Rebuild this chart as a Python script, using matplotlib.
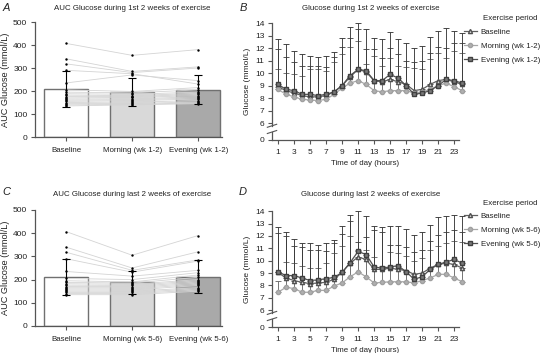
import numpy as np
import matplotlib
matplotlib.use("Agg")
import matplotlib.pyplot as plt

plt.rcParams['font.family'] = ['Liberation Sans', 'DejaVu Sans']
plt.rcParams['font.size'] = 5.7

# ---------------- data ----------------
groups_12 = ["Baseline", "Morning (wk 1-2)", "Evening (wk 1-2)"]
groups_56 = ["Baseline", "Morning (wk 5-6)", "Evening (wk 5-6)"]

# AUC panels: mean, SD and individual participants
auc_mean_a = [210, 196, 206]
auc_sd_a = [78, 60, 64]
auc_mean_c = [210, 188, 213]
auc_sd_c = [78, 50, 70]

auc_baseline = [407, 340, 318, 290, 235, 205, 195, 188, 182, 176, 170, 165, 160, 155, 150, 145, 140, 135]
auc_morning_a = [355, 285, 280, 275, 270, 198, 192, 186, 180, 176, 172, 166, 162, 158, 152, 146, 142, 140]
auc_evening_a = [380, 305, 300, 230, 245, 215, 205, 195, 190, 185, 180, 175, 170, 165, 158, 152, 148, 145]
auc_morning_c = [305, 250, 240, 232, 215, 200, 190, 185, 180, 175, 170, 165, 160, 155, 150, 145, 140, 135]
auc_evening_c = [390, 320, 285, 280, 240, 230, 220, 210, 200, 195, 190, 185, 180, 175, 165, 160, 155, 150]

hours = list(range(1, 25))
hour_ticks = list(range(1, 24, 2))

# panel B (weeks 1-2)
b_baseline = [8.9, 8.6, 8.4, 8.2, 8.1, 8.1, 8.2, 8.5, 9.0, 9.7, 10.3, 10.1,
              9.4, 9.3, 9.5, 9.3, 9.1, 8.6, 8.7, 9.1, 9.4, 9.5, 9.3, 9.1]
b_morning = [8.7, 8.3, 8.1, 7.9, 7.85, 7.8, 7.9, 8.3, 8.8, 9.2, 9.4, 9.1,
             8.6, 8.5, 8.6, 8.6, 8.6, 8.4, 8.5, 8.7, 9.0, 9.2, 8.9, 8.6]
b_evening = [9.1, 8.7, 8.6, 8.3, 8.3, 8.2, 8.3, 8.5, 9.0, 9.8, 10.3, 10.2,
             9.4, 9.4, 9.9, 9.6, 9.0, 8.3, 8.4, 8.6, 9.0, 9.5, 9.4, 9.2]
# upper ends of the SD bars
b_evening_top = [12.75, 12.3, 11.8, 11.5, 11.4, 11.3, 11.4, 11.7, 12.8, 13.7, 14.0, 13.5,
                 12.8, 12.7, 13.3, 12.7, 12.4, 12.0, 12.2, 12.9, 13.4, 13.6, 13.4, 13.2]
b_baseline_top = [11.9, 11.3, 10.9, 10.6, 10.6, 10.6, 10.5, 11.3, 12.1, 12.8, 13.5, 11.9,
                  11.9, 11.2, 12.0, 11.5, 11.0, 10.9, 11.0, 11.6, 12.1, 12.0, 12.4, 12.4]
b_morning_top = [10.3, 10.0, 9.9, 9.8, 10.3, 10.3, 10.2, 10.9, 11.5, 12.1, 12.6, 10.7,
                 11.4, 10.6, 11.2, 10.6, 10.5, 10.4, 10.3, 11.1, 11.6, 11.2, 11.8, 11.6]

# panel D (weeks 5-6)
d_baseline = [9.05, 8.6, 8.4, 8.25, 8.15, 8.2, 8.25, 8.5, 9.05, 9.8, 10.3, 10.1,
              9.3, 9.3, 9.4, 9.3, 9.2, 8.9, 9.0, 9.4, 9.7, 9.8, 9.7, 9.4]
d_morning = [7.45, 7.85, 7.75, 7.45, 7.45, 7.6, 7.6, 7.95, 8.2, 8.7, 9.1, 8.7,
             8.2, 8.25, 8.3, 8.3, 8.3, 8.2, 8.4, 8.6, 8.9, 8.9, 8.6, 8.3]
d_evening = [9.1, 8.8, 8.8, 8.6, 8.4, 8.45, 8.55, 8.65, 9.05, 9.85, 10.75, 10.5,
             9.5, 9.4, 9.5, 9.6, 9.1, 8.5, 8.7, 9.3, 9.7, 9.9, 10.1, 9.8]
d_evening_top = [12.75, 12.3, 11.75, 11.45, 11.4, 11.3, 11.4, 11.7, 12.8, 13.7, 14.0, 13.6,
                 12.8, 12.7, 12.8, 12.8, 12.6, 12.1, 12.3, 12.9, 13.5, 13.6, 13.7, 13.6]
d_baseline_top = [12.25, 12.0, 11.2, 11.1, 10.9, 10.9, 10.8, 11.4, 12.2, 13.2, 11.5, 11.9,
                  12.5, 12.3, 11.3, 11.3, 11.1, 10.7, 10.9, 11.6, 12.1, 12.3, 12.5, 12.3]
d_morning_top = [8.4, 9.9, 9.8, 9.6, 9.4, 9.4, 9.8, 10.6, 11.2, 12.0, 10.9, 10.9,
                 10.3, 9.6, 10.7, 10.6, 10.4, 10.0, 10.2, 10.9, 11.2, 11.4, 11.6, 11.5]

# ---------------- style ----------------
W, H = 546, 353
AX_COL = '#555555'
TXT = '#222222'
FS = 5.7
bar_colors = ['white', '#d9d9d9', '#a9a9a9']
ZERO_POS = 4.64   # where "0" sits below the axis break


def fx(px):
    return px / W


def fy(px):
    return 1 - px / H


def style_axes(ax):
    for s in ['top', 'right']:
        ax.spines[s].set_visible(False)
    for s in ['left', 'bottom']:
        ax.spines[s].set_color(AX_COL)
        ax.spines[s].set_linewidth(0.9)
    ax.tick_params(colors=AX_COL, labelcolor=TXT, length=3, width=0.8, labelsize=FS, pad=2.5)
    ax.tick_params(axis='y', labelsize=6.0)


def auc_panel(ax, labels, means, sds, pts):
    x = np.arange(3)
    pts = np.array(pts)
    ax.bar(x, means, width=0.66, color=bar_colors, edgecolor='#707070', linewidth=1.0, zorder=1)
    for j in range(pts.shape[1]):
        ax.plot(x, pts[:, j], color='#d4d4d4', lw=0.6, zorder=2)
    for i in range(3):
        ax.scatter(np.full(pts.shape[1], x[i]), pts[i], s=3, color='black', zorder=3, linewidths=0)
    ax.errorbar(x, means, yerr=sds, fmt='none', ecolor='black', elinewidth=0.8,
                capsize=3, capthick=0.8, zorder=4)
    ax.set_xlim(-0.47, 2.36)
    ax.set_ylim(0, 500)
    ax.set_yticks(range(0, 501, 100))
    ax.set_xticks(x)
    ax.set_xticklabels(labels)
    style_axes(ax)
    ax.tick_params(axis='x', length=3, pad=4)
    ax.set_ylabel('AUC Glucose (mmol/L)', color=TXT, fontsize=6.6, labelpad=2)


def glucose_panel(ax, series, tops):
    styles = [
        dict(marker='^', color='#606060', mfc='#e0e0e0', mec='#505050', ms=3.0),
        dict(marker='o', color='#a8a8a8', mfc='#b0b0b0', mec='#a0a0a0', ms=3.0),
        dict(marker='s', color='#505050', mfc='#7a7a7a', mec='#404040', ms=2.8),
    ]
    err_cols = ['#4a4a4a', '#6a6a6a', '#3a3a3a']
    handles = []
    for (vals, top, ec) in zip(series, tops, err_cols):
        vals = np.array(vals)
        up = np.array(top) - vals
        ax.errorbar(hours, vals, yerr=[np.zeros_like(up), up], fmt='none', ecolor=ec,
                    elinewidth=0.65, capsize=2, capthick=0.65, zorder=2, clip_on=False)
    for (vals, st) in zip(series, styles):
        h, = ax.plot(hours, vals, lw=0.9, zorder=3, clip_on=False, **st)
        handles.append(h)
    ax.set_xlim(0.25, 23.6)
    ax.set_ylim(ZERO_POS, 14.02)
    ax.set_yticks([ZERO_POS] + list(range(6, 15)))
    ax.set_yticklabels(['0'] + [str(v) for v in range(6, 15)])
    ax.set_xticks(hour_ticks)
    style_axes(ax)
    ax.tick_params(axis='x', pad=3.5, labelsize=6.0)
    # broken y axis
    ax.spines['left'].set_bounds(5.8, 14.02)
    tr = ax.get_yaxis_transform()
    ax.plot([0, 0], [ZERO_POS, 5.25], transform=tr, color=AX_COL, lw=0.9, clip_on=False)
    for yb in (5.78, 5.28):
        ax.plot([-0.025, 0.025], [yb - 0.12, yb + 0.12], transform=tr, color=AX_COL,
                lw=0.8, clip_on=False)
    ax.set_ylabel('Glucose (mmol/L)', color=TXT, fontsize=6.1, labelpad=3)
    ax.set_xlabel('Time of day (hours)', color=TXT, fontsize=FS, labelpad=3)
    return handles


fig = plt.figure(figsize=(W / 100, H / 100), dpi=100)

ax_a = fig.add_axes([fx(35), fy(137), fx(222 - 35), (137 - 22) / H])
ax_c = fig.add_axes([fx(35), fy(326), fx(222 - 35), (326 - 210) / H])
ax_b = fig.add_axes([fx(272), fy(140), fx(459 - 272), (140 - 23) / H])
ax_d = fig.add_axes([fx(272), fy(327), fx(459 - 272), (327 - 211) / H])

auc_panel(ax_a, groups_12, auc_mean_a, auc_sd_a, [auc_baseline, auc_morning_a, auc_evening_a])
auc_panel(ax_c, groups_56, auc_mean_c, auc_sd_c, [auc_baseline, auc_morning_c, auc_evening_c])

hb = glucose_panel(ax_b, [b_baseline, b_morning, b_evening], [b_baseline_top, b_morning_top, b_evening_top])
hd = glucose_panel(ax_d, [d_baseline, d_morning, d_evening], [d_baseline_top, d_morning_top, d_evening_top])

# titles and panel letters
fig.text(fx(132), fy(8), 'AUC Glucose during 1st 2 weeks of exercise', ha='center', va='center', color=TXT, fontsize=FS)
fig.text(fx(132), fy(195), 'AUC Glucose during last 2 weeks of exercise', ha='center', va='center', color=TXT, fontsize=FS)
fig.text(fx(371), fy(8), 'Glucose during 1st 2 weeks of exercise', ha='center', va='center', color=TXT, fontsize=FS)
fig.text(fx(371), fy(195), 'Glucose during last 2 weeks of exercise', ha='center', va='center', color=TXT, fontsize=FS)
for lab, x, y in [('A', 6, 8), ('B', 243, 8), ('C', 6, 192), ('D', 243, 192)]:
    fig.text(fx(x), fy(y), lab, ha='center', va='center', style='italic', fontsize=8, color=TXT)

# legends
for handles, labels, ytitle in [(hb, groups_12, 19), (hd, groups_56, 203)]:
    fig.text(fx(483), fy(ytitle), 'Exercise period', ha='left', va='center', color=TXT, fontsize=FS)
    fig.legend(handles, labels, loc='upper left', bbox_to_anchor=(fx(464), fy(ytitle + 9)),
               frameon=False, fontsize=FS, handlelength=1.6, handletextpad=0.5,
               labelspacing=0.85, borderpad=0, borderaxespad=0, labelcolor=TXT)

fig.savefig('out.png', dpi=100)
